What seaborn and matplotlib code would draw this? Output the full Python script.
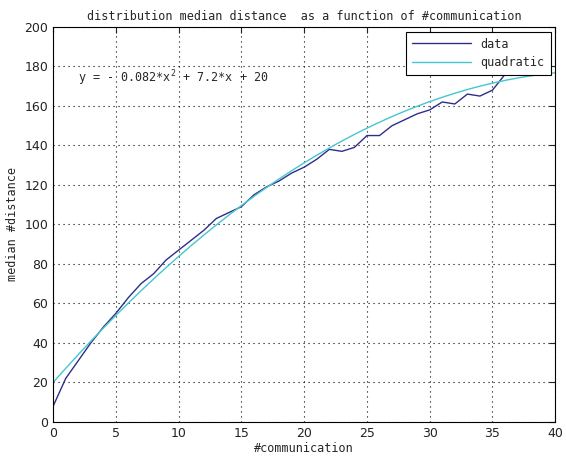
import numpy as np
import pandas as pd
import seaborn as sns
import matplotlib
matplotlib.use("Agg")
import matplotlib.pyplot as plt

# median distance per #communication
n_comm = list(range(0, 38))
median_dist = [8, 22, 31, 40, 48, 55, 63, 70, 75, 82,
               87, 92, 97, 103, 106, 109, 115, 119, 122, 126,
               129, 133, 138, 137, 139, 145, 145, 150, 153, 156,
               158, 162, 161, 166, 165, 168, 176, 186]

# quadratic fit shown on the chart
fit_coef = [-0.082, 7.2, 20]
fit_x = np.linspace(0, 40, 200)

sns.set_style("white")
plt.rcParams['font.family'] = ['DejaVu Sans Mono', 'DejaVu Sans']
plt.rcParams['mathtext.default'] = 'regular'

fig = plt.figure(figsize=(5.66, 4.57), dpi=100)
ax = fig.add_axes([0.094, 0.077, 0.887, 0.864])

df = pd.DataFrame({'x': n_comm, 'y': median_dist})
fit_df = pd.DataFrame({'x': fit_x, 'y': np.polyval(fit_coef, fit_x)})

sns.lineplot(data=df, x='x', y='y', ax=ax, color='#2e2e8a', lw=1.0, label='data')
sns.lineplot(data=fit_df, x='x', y='y', ax=ax, color='#45c6cf', lw=1.0, label='quadratic')

ax.set_xlim(0, 40)
ax.set_ylim(0, 200)
ax.set_xticks(range(0, 41, 5))
ax.set_yticks(range(0, 201, 20))
ax.grid(True, linestyle=(0, (1, 3.5)), color='black', linewidth=0.8)
ax.tick_params(direction='in', top=True, right=True, length=4, labelsize=9, colors='#222222')
for lbl in ax.get_xticklabels() + ax.get_yticklabels():
    lbl.set_family('DejaVu Sans')
for s in ax.spines.values():
    s.set_color('black')
    s.set_linewidth(0.8)

ax.set_title('distribution median distance  as a function of #communication', fontsize=8.5, pad=5)
ax.set_xlabel('#communication', fontsize=8.5, labelpad=2)
ax.set_ylabel('median #distance', fontsize=8.5, labelpad=4)

ax.text(2, 172, 'y = - 0.082*x$^{2}$ + 7.2*x + 20', fontsize=8.5)

leg = ax.legend(loc='upper right', fontsize=8.5, frameon=True, fancybox=False,
                handlelength=5, borderaxespad=0.4, borderpad=0.5)
leg.get_frame().set_edgecolor('black')
leg.get_frame().set_linewidth(0.8)
leg.get_frame().set_alpha(1)

fig.savefig('out.png', dpi=100)
